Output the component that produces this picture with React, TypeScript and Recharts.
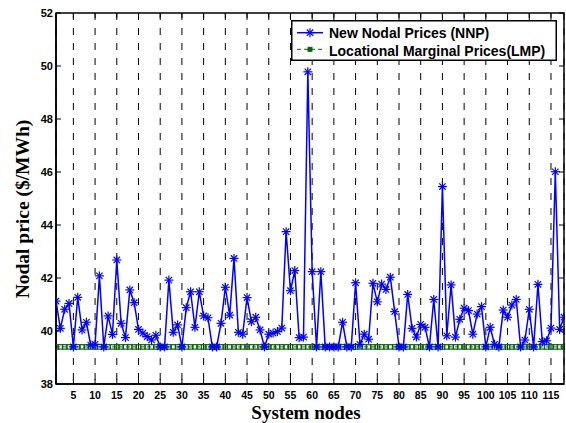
import React from 'react';
import { LineChart, Line, XAxis, YAxis, CartesianGrid, ReferenceArea, Legend, Label } from 'recharts';

const nodes = [
  1, 2, 3, 4, 5, 6, 7, 8, 9, 10, 11, 12, 13, 14, 15, 16, 17, 18, 19, 20,
  21, 22, 23, 24, 25, 26, 27, 28, 29, 30, 31, 32, 33, 34, 35, 36, 37, 38, 39, 40,
  41, 42, 43, 44, 45, 46, 47, 48, 49, 50, 51, 52, 53, 54, 55, 56, 57, 58, 59, 60,
  61, 62, 63, 64, 65, 66, 67, 68, 69, 70, 71, 72, 73, 74, 75, 76, 77, 78, 79, 80,
  81, 82, 83, 84, 85, 86, 87, 88, 89, 90, 91, 92, 93, 94, 95, 96, 97, 98, 99, 100,
  101, 102, 103, 104, 105, 106, 107, 108, 109, 110, 111, 112, 113, 114, 115, 116, 117, 118,
];

const nnp = [
  41.13, 40.10, 40.82, 41.04, 39.40, 41.27, 40.04, 40.33, 39.47, 39.50,
  42.08, 39.40, 40.57, 39.87, 42.68, 40.29, 39.75, 41.55, 41.07, 40.06,
  39.92, 39.79, 39.66, 39.84, 39.40, 39.40, 41.92, 39.95, 40.23, 39.40,
  40.88, 41.48, 40.14, 41.48, 40.57, 40.50, 39.40, 39.40, 40.29, 41.65,
  40.60, 42.74, 39.95, 39.88, 41.26, 40.35, 40.52, 40.04, 39.40, 39.88,
  39.92, 39.98, 40.11, 43.75, 41.52, 42.28, 39.75, 39.77, 49.78, 42.24,
  39.40, 42.24, 39.40, 39.40, 39.40, 39.40, 40.33, 39.40, 39.40, 41.82,
  39.50, 39.88, 39.69, 41.80, 41.10, 41.77, 41.57, 42.03, 40.73, 39.40,
  39.40, 41.38, 40.10, 39.77, 40.25, 40.14, 39.40, 41.19, 39.40, 45.45,
  39.82, 41.74, 39.77, 40.44, 40.86, 40.77, 39.88, 40.64, 40.92, 39.40,
  40.14, 39.50, 39.40, 40.79, 40.52, 40.98, 41.19, 39.40, 39.66, 40.82,
  39.40, 41.76, 39.60, 39.63, 40.11, 46.01, 40.06, 40.52,
];

const lmp = [
  39.4, 39.4, 39.4, 39.4, 39.4, 39.4, 39.4, 39.4, 39.4, 39.4,
  39.4, 39.4, 39.4, 39.4, 39.4, 39.4, 39.4, 39.4, 39.4, 39.4,
  39.4, 39.4, 39.4, 39.4, 39.4, 39.4, 39.4, 39.4, 39.4, 39.4,
  39.4, 39.4, 39.4, 39.4, 39.4, 39.4, 39.4, 39.4, 39.4, 39.4,
  39.4, 39.4, 39.4, 39.4, 39.4, 39.4, 39.4, 39.4, 39.4, 39.4,
  39.4, 39.4, 39.4, 39.4, 39.4, 39.4, 39.4, 39.4, 39.4, 39.4,
  39.4, 39.4, 39.4, 39.4, 39.4, 39.4, 39.4, 39.4, 39.4, 39.4,
  39.4, 39.4, 39.4, 39.4, 39.4, 39.4, 39.4, 39.4, 39.4, 39.4,
  39.4, 39.4, 39.4, 39.4, 39.4, 39.4, 39.4, 39.4, 39.4, 39.4,
  39.4, 39.4, 39.4, 39.4, 39.4, 39.4, 39.4, 39.4, 39.4, 39.4,
  39.4, 39.4, 39.4, 39.4, 39.4, 39.4, 39.4, 39.4, 39.4, 39.4,
  39.4, 39.4, 39.4, 39.4, 39.4, 39.4, 39.4, 39.4,
];

const xTicks = [5, 10, 15, 20, 25, 30, 35, 40, 45, 50, 55, 60, 65, 70, 75, 80, 85, 90, 95, 100, 105, 110, 115];
const yTicks = [38, 40, 42, 44, 46, 48, 50, 52];

const nnpName = 'New Nodal Prices (NNP)';
const lmpName = 'Locational Marginal Prices(LMP)';
const xTitle = 'System nodes';
const yTitle = 'Nodal price ($/MWh)';

const data = nodes.map((n, i) => ({ node: n, nnp: nnp[i], lmp: lmp[i] }));

const W = 566;
const H = 423;
const PLOT_LEFT = 56;
const PLOT_RIGHT = 564;
const PLOT_TOP = 13;
const PLOT_BOTTOM = 384;

const BLUE = '#0000ff';
const GREEN = '#0b620b';
const TICK_FONT = '"Liberation Sans", Arial, Helvetica, sans-serif';
const TITLE_FONT = '"Liberation Serif", "Times New Roman", serif';

const StarDot = (props: any) => {
  const { cx, cy, index } = props;
  if (cx == null || cy == null) return null;
  const r = 4.5;
  const d = r * 0.707;
  return (
    <g key={`s${index}`} stroke={BLUE} strokeWidth={1.2}>
      <line x1={cx - r} y1={cy} x2={cx + r} y2={cy} />
      <line x1={cx} y1={cy - r} x2={cx} y2={cy + r} />
      <line x1={cx - d} y1={cy - d} x2={cx + d} y2={cy + d} />
      <line x1={cx - d} y1={cy + d} x2={cx + d} y2={cy - d} />
    </g>
  );
};

const SquareDot = (props: any) => {
  const { cx, cy, index } = props;
  if (cx == null || cy == null) return null;
  return (
    <rect key={`q${index}`} x={cx - 2.2} y={cy - 2.2} width={4.4} height={4.4} fill="none" stroke={GREEN} strokeWidth={1.2} />
  );
};

const XTick = (props: any) => {
  const { x, y, payload } = props;
  return (
    <g>
      <line x1={x} x2={x} y1={PLOT_BOTTOM} y2={PLOT_BOTTOM - 5} stroke="#000" strokeWidth={1} />
      <line x1={x} x2={x} y1={PLOT_TOP} y2={PLOT_TOP + 5} stroke="#000" strokeWidth={1} />
      <text x={x} y={y} dy="0.71em" textAnchor="middle" fontSize={10.5} fontWeight="bold" fontFamily={TICK_FONT} fill="#000">
        {payload.value}
      </text>
    </g>
  );
};

const YTick = (props: any) => {
  const { x, y, payload } = props;
  return (
    <g>
      <line x1={PLOT_LEFT} x2={PLOT_LEFT + 5} y1={y} y2={y} stroke="#000" strokeWidth={1} />
      <line x1={PLOT_RIGHT} x2={PLOT_RIGHT - 5} y1={y} y2={y} stroke="#000" strokeWidth={1} />
      <text x={x} y={y} dy="0.36em" textAnchor="end" fontSize={11} fontWeight="bold" fontFamily={TICK_FONT} fill="#000">
        {payload.value}
      </text>
    </g>
  );
};

const LegendBox = () => {
  const w = 266;
  const h = 41;
  return (
    <svg width={w} height={h} style={{ display: 'block' }}>
      <rect x={0.75} y={0.75} width={w - 1.5} height={h - 1.5} fill="#fff" stroke="#000" strokeWidth={1.5} />
      <line x1={6} x2={32} y1={12.7} y2={12.7} stroke={BLUE} strokeWidth={1.5} />
      <StarDot cx={19} cy={12.7} index={-1} />
      <text x={38} y={18.3} fontSize={14} fontWeight="bold" fontFamily={TICK_FONT} fill="#000">{nnpName}</text>
      <line x1={6} x2={32} y1={29.3} y2={29.3} stroke={GREEN} strokeWidth={1} strokeDasharray="4 3" />
      <rect x={17} y={27.3} width={4} height={4} fill={GREEN} stroke={GREEN} strokeWidth={1} />
      <text x={38} y={36} fontSize={14} fontWeight="bold" fontFamily={TICK_FONT} fill="#000">{lmpName}</text>
    </svg>
  );
};

export default function App() {
  return (
    <div style={{ position: 'absolute', left: 0, top: 0, width: W, height: H, background: '#fff' }}>
      <LineChart
        width={W}
        height={H}
        data={data}
        margin={{ top: PLOT_TOP, right: W - PLOT_RIGHT, left: 0, bottom: 9 }}
      >
        <CartesianGrid horizontal={false} vertical stroke="#000" strokeWidth={1} strokeDasharray="7 8" />
        <XAxis
          dataKey="node"
          type="number"
          domain={[1, 118]}
          ticks={xTicks}
          allowDataOverflow
          height={30}
          tickSize={5}
          tickMargin={3}
          tickLine={false}
          axisLine={{ stroke: '#000', strokeWidth: 1.5 }}
          tick={<XTick />}
          interval={0}
        >
          <Label
            content={() => (
              <text x={306} y={419} textAnchor="middle" fontSize={19} fontWeight="bold" fontFamily={TITLE_FONT} fill="#000">
                {xTitle}
              </text>
            )}
          />
        </XAxis>
        <YAxis
          type="number"
          domain={[38, 52]}
          ticks={yTicks}
          allowDataOverflow
          width={PLOT_LEFT}
          tickSize={1}
          tickMargin={2}
          tickLine={false}
          axisLine={{ stroke: '#000', strokeWidth: 1.5 }}
          tick={<YTick />}
          interval={0}
        >
          <Label
            content={() => (
              <text
                x={29}
                y={209}
                transform="rotate(-90 29 209)"
                textAnchor="middle"
                fontSize={19.5}
                fontWeight="bold"
                fontFamily={TITLE_FONT}
                fill="#000"
              >
                {yTitle}
              </text>
            )}
          />
        </YAxis>
        <ReferenceArea x1={1} x2={118} y1={38} y2={52} fill="none" stroke="#000" strokeWidth={1.5} ifOverflow="visible" />
        <Line
          name={lmpName}
          dataKey="lmp"
          stroke={GREEN}
          strokeWidth={1}
          strokeDasharray="4 3"
          dot={<SquareDot />}
          activeDot={false}
          isAnimationActive={false}
        />
        <Line
          name={nnpName}
          dataKey="nnp"
          stroke={BLUE}
          strokeWidth={1.5}
          dot={<StarDot />}
          activeDot={false}
          isAnimationActive={false}
        />
        <Legend
          layout="vertical"
          align="center"
          verticalAlign="middle"
          wrapperStyle={{ position: 'absolute', left: 291, top: 20, width: 266, height: 41 }}
          content={() => <LegendBox />}
        />
      </LineChart>
    </div>
  );
}
